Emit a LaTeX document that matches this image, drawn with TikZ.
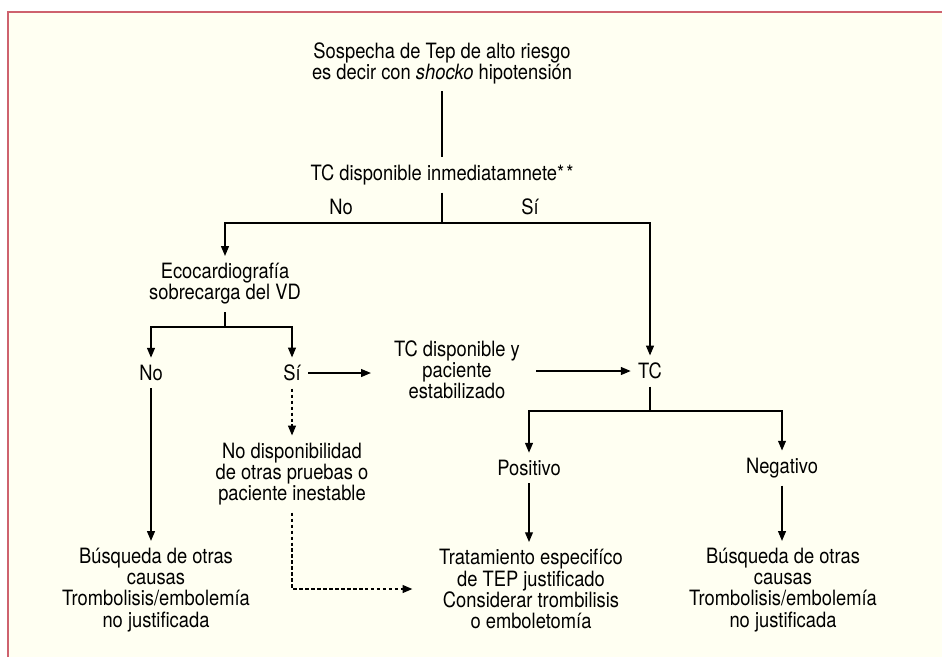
\documentclass[tikz,border=0pt]{standalone}
\usepackage{fontspec}
\setmainfont{TeX Gyre Heros}[FakeStretch=0.87]
\usetikzlibrary{arrows.meta}
\definecolor{bordo}{RGB}{206,98,110}
\definecolor{crema}{RGB}{255,255,242}

\begin{document}
\begin{tikzpicture}[x=0.02cm,y=-0.02cm,line width=0.6pt,
    txt/.style={align=center,inner sep=4pt,font=\fontsize{12}{12}\selectfont},
    flecha/.style={-{Triangle[length=5.5pt,width=4.5pt]}},
    punteado/.style={dash pattern=on 2pt off 1.4pt}]
    \useasboundingbox (0,0) rectangle (942,657);
    \fill[crema] (8,12) rectangle (942,657);
    \draw[bordo,line width=1.1pt] (8,657) -- (8,12) -- (942,12);

    \node[txt] (sospecha) at (442,63) {Sospecha de Tep de alto riesgo\\es decir con \textit{shocko} hipotensión};
    \node[txt] (tcinmed) at (442,175) {TC disponible inmediatamnete*\kern1.2pt*};
    \node[txt] (no1) at (341,207) {No};
    \node[txt] (si1) at (530,207) {Sí};
    \node[txt] (eco) at (225,284) {Ecocardiografía\\sobrecarga del VD};
    \node[txt] (no2) at (151,373) {No};
    \node[txt] (si2) at (292,373) {Sí};
    \node[txt] (tcestab) at (457,370) {TC disponible y\\paciente\\estabilizado};
    \node[txt] (tc) at (650,371) {TC};
    \node[txt] (nodisp) at (292,474) {No disponibilidad\\de otras pruebas o\\paciente inestable};
    \node[txt] (pos) at (529,468) {Positivo};
    \node[txt] (neg) at (782,468) {Negativo};
    \node[txt] (busq1) at (156,590) {Búsqueda de otras\\causas\\Trombolisis/embolemía\\no justificada};
    \node[txt] (trat) at (531,589) {Tratamiento especifíco\\de TEP justificado\\Considerar trombilisis\\o emboletomía};
    \node[txt] (busq2) at (783,590) {Búsqueda de otras\\causas\\Trombolisis/embolemía\\no justificada};

    \coordinate (c1) at (442,223);
    \coordinate (c2) at (225,327);
    \coordinate (c3) at (650,411);

    \draw (sospecha) -- (tcinmed);
    \draw (tcinmed) -- (c1);
    \draw[flecha] (c1) -| (eco);
    \draw[flecha] (c1) -| (tc);
    \draw (eco) -- (c2);
    \draw[flecha] (c2) -| (no2);
    \draw[flecha] (c2) -| (si2);
    \draw[flecha,shorten >=9pt] (si2) -- (si2 -| tcestab.west);
    \draw[flecha,shorten <=5pt] (tcestab.east |- tc) -- (tc);
    \draw (tc) -- (c3);
    \draw[flecha] (c3) -| (pos);
    \draw[flecha] (c3) -| (neg);
    \draw[flecha] (no2) -- (busq1.north -| no2);
    \draw[flecha] (pos) -- (pos |- trat.north);
    \draw[flecha] (neg) -- (neg |- busq2.north);
    \draw[flecha,punteado] (si2) -- (nodisp);
    \draw[flecha,punteado,shorten >=11pt] (nodisp) |- (trat.west);
\end{tikzpicture}
\end{document}
